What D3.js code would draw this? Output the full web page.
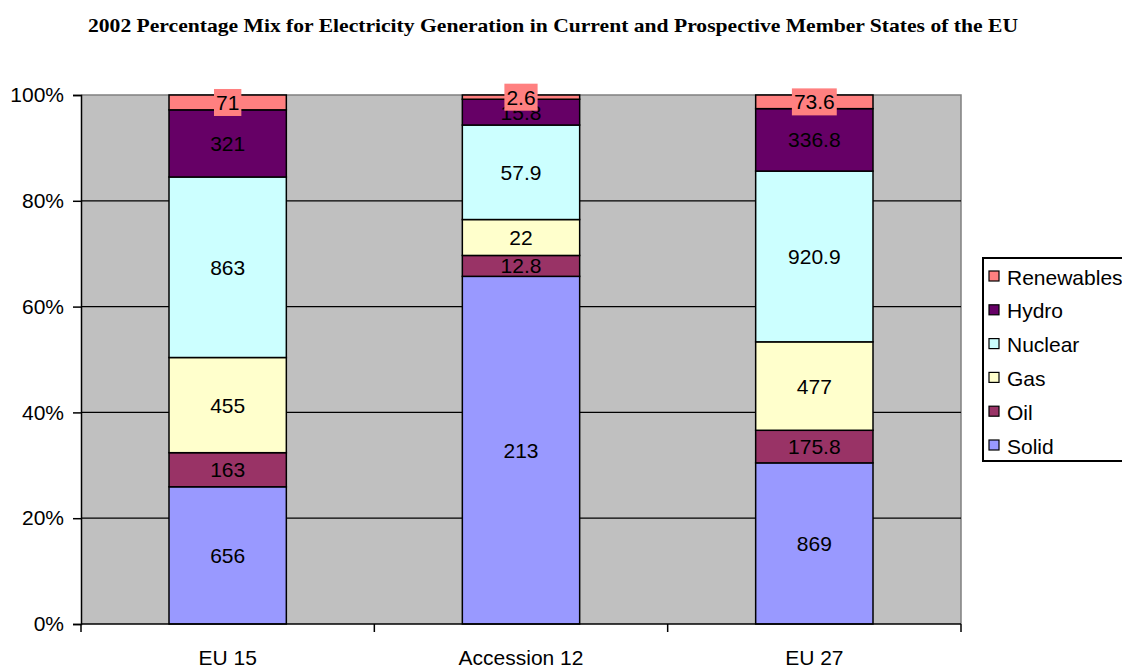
<!DOCTYPE html>
<html>
<head>
<meta charset="utf-8">
<script src="https://cdn.jsdelivr.net/npm/d3@7"></script>
<style>
  html, body { margin: 0; padding: 0; background: #ffffff; }
  svg { display: block; }
  text { font-family: Arial, "Liberation Sans", sans-serif; }
</style>
</head>
<body>
<svg id="chart" width="1122" height="669"></svg>
<script>
// Electricity generation by source (TWh), 2002
const categories = ["EU 15", "Accession 12", "EU 27"];
const sources = ["Solid", "Oil", "Gas", "Nuclear", "Hydro", "Renewables"];
const solid      = [656, 213, 869];
const oil        = [163, 12.8, 175.8];
const gas        = [455, 22, 477];
const nuclear    = [863, 57.9, 920.9];
const hydro      = [321, 15.8, 336.8];
const renewables = [71, 2.6, 73.6];
const yTicks = [0, 0.2, 0.4, 0.6, 0.8, 1.0];
const titleText = "2002 Percentage Mix for Electricity Generation in Current and Prospective Member States of the EU";

const colors = {
  Solid: "#9999FF", Oil: "#993366", Gas: "#FFFFCC",
  Nuclear: "#CCFFFF", Hydro: "#660066", Renewables: "#FF8080"
};

const seriesValues = { Solid: solid, Oil: oil, Gas: gas, Nuclear: nuclear, Hydro: hydro, Renewables: renewables };
const rows = categories.map((c, i) => {
  const r = { category: c };
  sources.forEach(s => { r[s] = seriesValues[s][i]; });
  return r;
});

const stacked = d3.stack().keys(sources).offset(d3.stackOffsetExpand)(rows);

const svg = d3.select("#chart");
const plot = { left: 81, right: 961, top: 95, bottom: 624 };
const fontSize = "21px";

const x = d3.scaleBand()
  .domain(categories)
  .range([plot.left, plot.right])
  .paddingInner(0.6)
  .paddingOuter(0.3);

const y = d3.scaleLinear().domain([0, 1]).range([plot.bottom, plot.top]);

// Title
svg.append("text")
  .attr("x", 553).attr("y", 32)
  .attr("text-anchor", "middle")
  .attr("textLength", 930)
  .attr("lengthAdjust", "spacingAndGlyphs")
  .style("font-family", "'Liberation Serif', 'Times New Roman', serif")
  .style("font-weight", "bold")
  .style("font-size", "19px")
  .text(titleText);

// Plot background
svg.append("rect")
  .attr("x", plot.left).attr("y", plot.top)
  .attr("width", plot.right - plot.left).attr("height", plot.bottom - plot.top)
  .attr("fill", "#C0C0C0");

// Top and right plot border
svg.append("path")
  .attr("d", `M${plot.left},${plot.top}H${plot.right}V${plot.bottom}`)
  .attr("fill", "none").attr("stroke", "#808080").attr("stroke-width", 1.5);

// Gridlines
svg.append("g").selectAll("line")
  .data(yTicks.filter(t => t > 0 && t < 1))
  .join("line")
  .attr("x1", plot.left).attr("x2", plot.right)
  .attr("y1", d => y(d)).attr("y2", d => y(d))
  .attr("stroke", "#000").attr("stroke-width", 1.2);

// Bars
const layers = svg.append("g").selectAll("g")
  .data(stacked)
  .join("g")
  .attr("fill", d => colors[d.key]);

layers.selectAll("rect")
  .data(d => d.map(p => ({ key: d.key, p })))
  .join("rect")
  .attr("x", d => x(d.p.data.category))
  .attr("width", x.bandwidth())
  .attr("y", d => y(d.p[1]))
  .attr("height", d => y(d.p[0]) - y(d.p[1]))
  .attr("stroke", "#000")
  .attr("stroke-width", 1.5);

// Y axis
const yAxis = d3.axisLeft(y)
  .tickValues(yTicks)
  .tickFormat(d3.format(".0%"))
  .tickSize(8)
  .tickPadding(9);
const gy = svg.append("g").attr("transform", `translate(${plot.left},0)`).call(yAxis);
gy.select(".domain").attr("stroke", "#000").attr("stroke-width", 1.5);
gy.selectAll(".tick line").attr("stroke", "#000").attr("stroke-width", 1.5);
gy.selectAll(".tick text").style("font-size", fontSize).attr("fill", "#000")
  .attr("font-family", null);

// X axis: line plus ticks at category boundaries
svg.append("line")
  .attr("x1", plot.left).attr("x2", plot.right)
  .attr("y1", plot.bottom).attr("y2", plot.bottom)
  .attr("stroke", "#000").attr("stroke-width", 1.5);
const boundaries = d3.range(categories.length + 1).map(i => plot.left + i * x.step());
svg.append("g").selectAll("line")
  .data(boundaries)
  .join("line")
  .attr("x1", d => d).attr("x2", d => d)
  .attr("y1", plot.bottom).attr("y2", plot.bottom + 8)
  .attr("stroke", "#000").attr("stroke-width", 1.5);
svg.append("g").selectAll("text")
  .data(categories)
  .join("text")
  .attr("x", d => x(d) + x.bandwidth() / 2)
  .attr("y", 665)
  .attr("text-anchor", "middle")
  .style("font-size", fontSize)
  .text(d => d);

// Value labels centred in each segment
const labelData = [];
stacked.forEach(layer => {
  layer.forEach((p, i) => {
    labelData.push({
      key: layer.key,
      value: seriesValues[layer.key][i],
      cx: x(p.data.category) + x.bandwidth() / 2,
      cy: (y(p[0]) + y(p[1])) / 2
    });
  });
});

const labels = svg.append("g").selectAll("g")
  .data(labelData)
  .join("g")
  .attr("transform", d => `translate(${d.cx},${d.cy})`);

labels.each(function(d) {
  const g = d3.select(this);
  const t = g.append("text")
    .attr("text-anchor", "middle")
    .attr("dy", "0.36em")
    .style("font-size", fontSize)
    .attr("fill", "#000")
    .text(d3.format("")(d.value));
  if (d.key === "Renewables") {
    const b = t.node().getBBox();
    g.insert("rect", "text")
      .attr("x", b.x - 2).attr("y", b.y - 2)
      .attr("width", b.width + 4).attr("height", b.height + 4)
      .attr("fill", colors.Renewables);
  }
});

// Legend
const legend = svg.append("g").attr("transform", "translate(983,258)");
legend.append("rect")
  .attr("x", 0).attr("y", 0).attr("width", 160).attr("height", 203)
  .attr("fill", "#fff").attr("stroke", "#000").attr("stroke-width", 2);
const legendOrder = sources.slice().reverse();
const items = legend.selectAll("g.item")
  .data(legendOrder)
  .join("g")
  .attr("class", "item")
  .attr("transform", (d, i) => `translate(0,${19 + i * 33.8})`);
items.append("rect")
  .attr("x", 6).attr("y", -6).attr("width", 10).attr("height", 10)
  .attr("fill", d => colors[d]).attr("stroke", "#000").attr("stroke-width", 1.2);
items.append("text")
  .attr("x", 24).attr("dy", "0.36em")
  .style("font-size", fontSize)
  .text(d => d);
</script>
</body>
</html>
